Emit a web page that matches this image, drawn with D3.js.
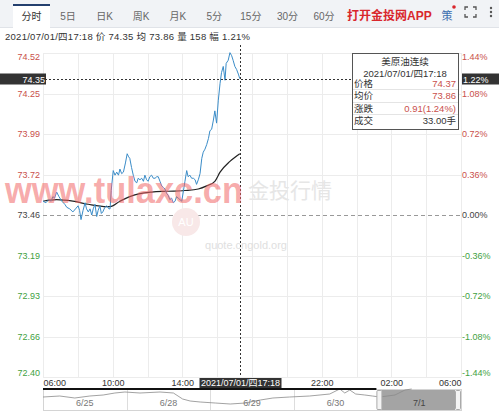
<!DOCTYPE html>
<html>
<head>
<meta charset="utf-8">
<script src="https://cdn.jsdelivr.net/npm/d3@7"></script>
<style>
body { margin: 0; background: #fff; }
svg { display: block; }
</style>
</head>
<body>
<svg id="chart"></svg>
<script>
// chart values
var tabs = ['分时', '5日', '日K', '周K', '月K', '5分', '15分', '30分', '60分'];
var basePrice = 73.46;
var pctTicks = [1.44, 1.08, 0.72, 0.36, 0, -0.36, -0.72, -1.08, -1.44];
var priceLabels = ['74.52', '74.25', '73.99', '73.72', '73.46', '73.19', '72.93', '72.66', '72.40'];
var pctLabels = ['1.44%', '1.08%', '0.72%', '0.36%', '0.00%', '-0.36%', '-0.72%', '-1.08%', '-1.44%'];
var timeTicks = ['06:00', '10:00', '14:00', '22:00', '02:00', '06:00'];
var timeTickHours = [0, 4, 8, 16, 20, 24];

var priceTimes = ['06:00','06:10','06:20','06:28','06:34','06:40','06:47','06:55','07:05','07:15','07:22','07:32','07:43','07:52',
  '08:01','08:06','08:11','08:18','08:25','08:30','08:36','08:42','08:48','08:53','08:59','09:05','09:10','09:16','09:21','09:26',
  '09:33','09:40','09:47','09:51','09:55','10:02','10:08','10:14','10:20','10:25','10:31','10:37','10:44','10:50','10:55','10:59',
  '11:05','11:11','11:17','11:23','11:28','11:34','11:40','11:46','11:51','11:57','12:02','12:08','12:14','12:20','12:26','12:32',
  '12:37','12:43','12:49','12:55','13:00','13:06','13:11','13:17','13:23','13:29','13:35','13:40','13:46','13:52','13:58','14:04',
  '14:09','14:15','14:20','14:26','14:32','14:38','14:44','14:49','14:55','15:01','15:07','15:12','15:18','15:24','15:30','15:35',
  '15:41','15:47','15:52','15:58','16:04','16:10','16:15','16:21','16:27','16:31','16:38','16:44','16:50','16:55','17:01','17:07',
  '17:13','17:18'];
var priceValues = [73.55,73.54,73.56,73.55,73.58,73.57,73.61,73.58,73.55,73.53,73.51,73.50,73.48,73.50,
  73.52,73.49,73.43,73.49,73.54,73.50,73.48,73.50,73.46,73.50,73.53,73.45,73.49,73.52,73.47,73.48,
  73.51,73.52,73.50,73.50,73.62,73.75,73.72,73.74,73.72,73.76,73.73,73.74,73.80,73.86,73.84,73.83,
  73.77,73.72,73.68,73.67,73.70,73.69,73.70,73.68,73.72,73.69,73.68,73.71,73.72,73.70,73.70,73.71,
  73.71,73.68,73.65,73.64,73.63,73.60,73.59,73.56,73.57,73.54,73.55,73.58,73.57,73.56,73.55,73.62,
  73.68,73.75,73.71,73.72,73.70,73.70,73.69,73.66,73.69,73.73,73.83,73.87,73.89,73.92,73.96,74.01,
  74.02,74.08,74.14,74.06,74.21,74.32,74.39,74.43,74.34,74.45,74.47,74.52,74.50,74.47,74.43,74.41,
  74.38,74.35];

var avgTimes = ['06:00','06:47','07:43','08:36','09:40','09:51','10:25','10:59','11:34','12:14','13:11','14:09','14:55','15:24','15:52','16:10','16:44','17:18'];
var avgValues = [73.55,73.56,73.55,73.53,73.515,73.515,73.55,73.58,73.60,73.61,73.615,73.62,73.63,73.65,73.68,73.74,73.81,73.86];

var navDays = ['6/25', '6/28', '6/29', '6/30', '7/1'];
var navT = [0,0.2,0.38,0.56,0.72,0.86,0.98,1.16,1.4,1.56,1.67,1.76,1.88,2.06,2.24,2.42,2.6,2.75,2.95,3.19,3.43,3.55,3.61,3.67,3.74,3.85,3.94,4.03,4.21,4.33,4.41];
var navValues = [73.8,73.9,73.7,73.9,74.0,74.2,74.3,74.2,74.3,74.2,73.6,73.4,73.3,73.2,73.1,73.2,73.5,73.7,73.8,73.9,74.1,74.6,74.2,74.5,74.1,74.0,73.9,73.8,74.0,74.5,74.6];

var FONT = '"Liberation Sans", "Noto Sans CJK SC", sans-serif';
var RED = '#c9504b', GREEN = '#3f9f3f';

var W = 499, H = 411;
var margin = {top: 53, right: 38, bottom: 34, left: 43},
    width = W - margin.left - margin.right,
    height = H - margin.top - margin.bottom;

var svg = d3.select('#chart').attr('width', W).attr('height', H)
    .style('font-family', FONT);

// toolbar
svg.append('rect').attr('x', 0).attr('y', 0).attr('width', W).attr('height', 27).attr('fill', '#f1f3f6');
svg.append('line').attr('x1', 0).attr('x2', W).attr('y1', 27.5).attr('y2', 27.5).attr('stroke', '#e0e3e8');
svg.append('rect').attr('x', 13).attr('y', 4).attr('width', 37).attr('height', 24).attr('fill', '#fff');
svg.append('rect').attr('x', 13).attr('y', 4).attr('width', 37).attr('height', 2).attr('fill', '#233f6e');

var tabX = d3.scalePoint().domain(tabs).range([31.5, 324]);
svg.selectAll('text.tab')
    .data(tabs)
    .enter()
    .append('text')
    .attr('class', 'tab')
    .attr('x', function(d) { return tabX(d); })
    .attr('y', 16)
    .attr('dy', '0.35em')
    .attr('text-anchor', 'middle')
    .style('font-size', '10px')
    .attr('fill', function(d, i) { return i == 0 ? '#333' : '#666'; })
    .text(function(d) { return d; });

svg.append('text').attr('x', 347).attr('y', 16).attr('dy', '0.35em')
    .style('font-size', '12px').style('font-weight', 'bold').attr('fill', '#d9262c')
    .text('打开金投网APP');
svg.append('text').attr('x', 447).attr('y', 16).attr('dy', '0.35em').attr('text-anchor', 'middle')
    .style('font-size', '11px').attr('fill', '#3b6fb0').text('策');
svg.append('circle').attr('cx', 454).attr('cy', 7).attr('r', 1.8).attr('fill', '#d9262c');
// fullscreen icon
svg.append('path')
    .attr('d', 'M465,10V7H468 M473,7H476V10 M476,14V17H473 M468,17H465V14')
    .attr('fill', 'none').attr('stroke', '#555').attr('stroke-width', 1.3);
[8, 12, 16].forEach(function(cy) {
    svg.append('circle').attr('cx', 491).attr('cy', cy).attr('r', 1.2).attr('fill', '#555');
});

// info line
svg.append('text').attr('x', 5).attr('y', 37).attr('dy', '0.35em')
    .style('font-size', '9.5px').attr('fill', '#333')
    .attr('textLength', 245).attr('lengthAdjust', 'spacing')
    .text('2021/07/01/四17:18  价 74.35  均 73.86  量 158  幅 1.21%');

var g = svg.append('g').attr('transform', 'translate(' + margin.left + ',' + margin.top + ')');

var parseTime = d3.timeParse('%Y-%m-%d %H:%M');
var t0 = parseTime('2021-07-01 06:00'), t1 = parseTime('2021-07-02 06:00');
var x = d3.scaleTime().domain([t0, t1]).range([0, width]);
var pct = d3.scaleLinear().domain([-1.44, 1.44]).range([height, 0]);
var y = function(p) { return pct((p / basePrice - 1) * 100); };

// grid
g.append('g').selectAll('line')
    .data(d3.timeHour.every(2).range(t0, d3.timeMinute.offset(t1, 1)))
    .enter().append('line')
    .attr('x1', function(d) { return Math.round(x(d)) + 0.5; })
    .attr('x2', function(d) { return Math.round(x(d)) + 0.5; })
    .attr('y1', 0).attr('y2', height)
    .attr('stroke', '#ececec');
g.append('g').selectAll('line')
    .data(pctTicks)
    .enter().append('line')
    .attr('x1', 0).attr('x2', width)
    .attr('y1', function(d) { return Math.round(pct(d)) + 0.5; })
    .attr('y2', function(d) { return Math.round(pct(d)) + 0.5; })
    .attr('stroke', function(d) { return d == 0 ? '#999' : '#ececec'; })
    .attr('stroke-dasharray', function(d) { return d == 0 ? '4,3' : null; });

// watermarks
svg.append('text').attr('x', 290).attr('y', 198)
    .style('font-size', '21px').attr('fill', '#e6e6e6').attr('text-anchor', 'middle')
    .text('金投行情');
svg.append('text').attr('x', 246).attr('y', 249)
    .style('font-size', '11px').attr('fill', '#e0e0e0').attr('text-anchor', 'middle')
    .text('quote.cngold.org');
svg.append('circle').attr('cx', 186).attr('cy', 222).attr('r', 14).attr('fill', '#f8e8e8');
svg.append('text').attr('x', 186).attr('y', 226).attr('text-anchor', 'middle')
    .style('font-size', '11px').attr('fill', '#fff').text('AU');

// average line
var avgData = avgTimes.map(function(t, i) { return {date: parseTime('2021-07-01 ' + t), value: avgValues[i]}; });
var priceData = priceTimes.map(function(t, i) { return {date: parseTime('2021-07-01 ' + t), value: priceValues[i]}; });

g.append('path')
    .datum(avgData)
    .attr('fill', 'none')
    .attr('stroke', '#222')
    .attr('stroke-width', 1.2)
    .attr('d', d3.line().curve(d3.curveMonotoneX)
        .x(function(d) { return x(d.date); })
        .y(function(d) { return y(d.value); }));

g.append('path')
    .datum(priceData)
    .attr('fill', 'none')
    .attr('stroke', '#3a8cc8')
    .attr('stroke-width', 1)
    .attr('d', d3.line()
        .x(function(d) { return x(d.date); })
        .y(function(d) { return y(d.value); }));

svg.append('text').attr('x', 5).attr('y', 203)
    .style('font-size', '36px').style('font-weight', 'bold')
    .attr('fill', 'rgba(240,100,100,0.55)')
    .attr('textLength', 238).attr('lengthAdjust', 'spacingAndGlyphs')
    .text('www.tulaxc.cn');

// left price axis
var labelShift = function(i) { return i == 0 ? 4 : (i == pctTicks.length - 1 ? -4 : 0); };
var tickColor = function(d) { return d > 0 ? RED : (d < 0 ? GREEN : '#444'); };

g.append('g').selectAll('text')
    .data(pctTicks)
    .enter().append('text')
    .attr('x', -3)
    .attr('y', function(d, i) { return pct(d) + labelShift(i); })
    .attr('dy', '0.35em')
    .attr('text-anchor', 'end')
    .style('font-size', '9px')
    .attr('fill', tickColor)
    .text(function(d, i) { return priceLabels[i]; });

g.append('g').selectAll('text')
    .data(pctTicks)
    .enter().append('text')
    .attr('x', width + 1)
    .attr('y', function(d, i) { return pct(d) + labelShift(i); })
    .attr('dy', '0.35em')
    .style('font-size', '9px')
    .attr('fill', tickColor)
    .text(function(d, i) { return pctLabels[i]; });

// time axis (18:00 sits under the crosshair label)
var xAxis = d3.axisBottom(x)
    .tickValues(timeTickHours.map(function(h) { return d3.timeHour.offset(t0, h); }))
    .tickSize(0)
    .tickFormat(function(d, i) { return timeTicks[i]; });
var xg = g.append('g').attr('transform', 'translate(0,' + (height + 6) + ')').call(xAxis);
xg.select('.domain').remove();
xg.selectAll('text')
    .attr('y', 0).attr('dy', '0.35em')
    .style('font-size', '9px').style('font-family', FONT).attr('fill', '#333')
    .attr('text-anchor', function(d, i, n) { return i == 0 ? 'start' : (i == n.length - 1 ? 'end' : 'middle'); });

// navigator
var navTop = height + 12, navH = 21;
var nx = d3.scaleLinear().domain([0, 5]).range([0, width]);
var ny = d3.scaleLinear().domain([72.7, 74.5]).range([navTop + navH - 2, navTop + 1]);

g.append('rect').attr('x', 0.5).attr('y', navTop + 0.5).attr('width', width).attr('height', navH)
    .attr('fill', '#fff').attr('stroke', '#d4d4d4');
g.append('rect').attr('x', nx(4) + 4).attr('y', navTop + 1).attr('width', nx(5) - nx(4) - 10).attr('height', navH - 1)
    .attr('fill', '#a4a4a4');
g.selectAll('line.sep')
    .data([1, 2, 3, 4])
    .enter().append('line')
    .attr('class', 'sep')
    .attr('x1', function(d) { return Math.round(nx(d)) + 0.5; })
    .attr('x2', function(d) { return Math.round(nx(d)) + 0.5; })
    .attr('y1', navTop).attr('y2', navTop + navH)
    .attr('stroke', '#ddd');
g.append('path')
    .datum(navT.map(function(t, i) { return [t, navValues[i]]; }))
    .attr('fill', 'none').attr('stroke', '#8a8a8a').attr('stroke-width', 0.8)
    .attr('d', d3.line()
        .x(function(d) { return nx(d[0]); })
        .y(function(d) { return ny(d[1]); }));
g.selectAll('text.day')
    .data(navDays)
    .enter().append('text')
    .attr('class', 'day')
    .attr('x', function(d, i) { return nx(i + 0.5); })
    .attr('y', navTop + 14).attr('dy', '0.35em')
    .attr('text-anchor', 'middle')
    .style('font-size', '9px')
    .attr('fill', function(d, i) { return i == 4 ? '#444' : '#777'; })
    .text(function(d) { return d; });
// handles
[nx(4) - 1, nx(5) - 6].forEach(function(hx) {
    g.append('rect').attr('x', hx + 0.5).attr('y', navTop + 1.5).attr('width', 5).attr('height', navH - 2)
        .attr('fill', '#f4f4f4').attr('stroke', '#aaa').attr('rx', 1);
});
g.append('line').attr('x1', 0).attr('x2', nx(4) - 1).attr('y1', navTop).attr('y2', navTop)
    .attr('stroke', '#111').attr('stroke-width', 2);

// crosshair
var cur = parseTime('2021-07-01 17:18');
var cx = Math.round(x(cur)) + 0.5, cy = Math.round(y(74.35)) + 0.5;
g.append('line').attr('x1', cx).attr('x2', cx).attr('y1', -8).attr('y2', height)
    .attr('stroke', '#333').attr('stroke-dasharray', '2,2');
g.append('line').attr('x1', 2).attr('x2', width).attr('y1', cy).attr('y2', cy)
    .attr('stroke', '#333').attr('stroke-dasharray', '2,2');

svg.append('rect').attr('x', 0).attr('y', margin.top + cy - 6).attr('width', 46).attr('height', 11).attr('fill', '#333');
svg.append('text').attr('x', 45).attr('y', margin.top + cy).attr('dy', '0.35em').attr('text-anchor', 'end')
    .style('font-size', '9px').attr('fill', '#fff').text('74.35');
svg.append('rect').attr('x', margin.left + width + 1).attr('y', margin.top + cy - 6).attr('width', 37).attr('height', 11).attr('fill', '#333');
svg.append('text').attr('x', margin.left + width + 2).attr('y', margin.top + cy).attr('dy', '0.35em')
    .style('font-size', '9px').attr('fill', '#fff').text('1.22%');

g.append('rect').attr('x', cx - 41).attr('y', height + 1).attr('width', 82).attr('height', 10).attr('fill', '#333');
g.append('text').attr('x', cx).attr('y', height + 6).attr('dy', '0.35em').attr('text-anchor', 'middle')
    .style('font-size', '9px').attr('fill', '#fff').text('2021/07/01/四17:18');

// tooltip box
var tip = svg.append('g').attr('transform', 'translate(352,53)');
tip.append('rect').attr('x', 0.5).attr('y', 0.5).attr('width', 106).attr('height', 76)
    .attr('fill', '#fff').attr('stroke', '#555');
tip.append('text').attr('x', 53).attr('y', 9).attr('dy', '0.35em').attr('text-anchor', 'middle')
    .style('font-size', '9.5px').attr('fill', '#333').text('美原油连续');
tip.append('text').attr('x', 53).attr('y', 20.5).attr('dy', '0.35em').attr('text-anchor', 'middle')
    .style('font-size', '9.5px').attr('fill', '#333').text('2021/07/01/四17:18');
var tipRows = [['价格', '74.37', RED], ['均价', '73.86', RED], ['涨跌', '0.91(1.24%)', RED], ['成交', '33.00手', '#333']];
var rowY = [31, 43, 56, 68];
tipRows.forEach(function(r, i) {
    tip.append('text').attr('x', 2).attr('y', rowY[i]).attr('dy', '0.35em')
        .style('font-size', '9.5px').attr('fill', '#333').text(r[0]);
    tip.append('text').attr('x', 104).attr('y', rowY[i]).attr('dy', '0.35em').attr('text-anchor', 'end')
        .style('font-size', '9.5px').attr('fill', r[2]).text(r[1]);
    if (i > 0) {
        tip.append('line').attr('x1', 1).attr('x2', 106).attr('y1', rowY[i] - 6.5).attr('y2', rowY[i] - 6.5)
            .attr('stroke', '#e4e4e4');
    }
});
</script>
</body>
</html>
